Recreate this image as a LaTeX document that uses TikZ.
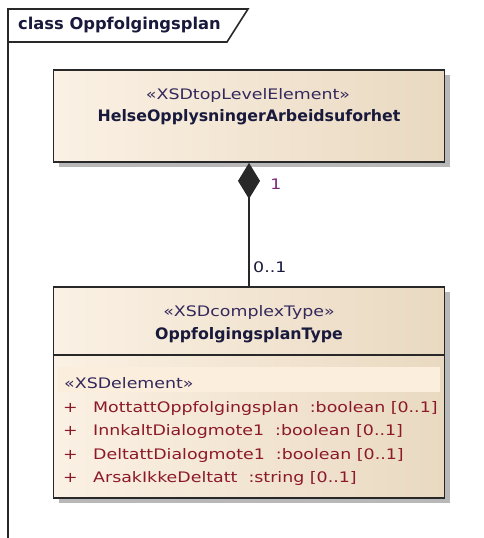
\documentclass[tikz,border=0pt]{standalone}
\usepackage{fontspec}
\setmainfont{DejaVu Sans}
\newfontfamily\eafont{DejaVu Sans}[FakeStretch=1.2]
\usepackage{xcolor}
\usetikzlibrary{positioning,shadows,arrows.meta}

\definecolor{boxleft}{RGB}{251,241,228}
\definecolor{boxright}{RGB}{233,217,193}
\definecolor{rowfill}{RGB}{251,238,220}
\definecolor{stereocol}{RGB}{52,40,92}
\definecolor{namecol}{RGB}{25,25,60}
\definecolor{attrcol}{RGB}{140,25,40}
\definecolor{multcol}{RGB}{120,40,120}
\definecolor{linecol}{RGB}{40,40,40}

\begin{document}
\begin{tikzpicture}[x=1pt, y=-1pt, >=latex,
    umlbox/.style={draw=linecol, line width=1.8pt, left color=boxleft, right color=boxright,
        drop shadow={shadow xshift=5pt, shadow yshift=-5pt, fill=black!28, opacity=1},
        minimum width=391pt, inner sep=0pt},
    stereotype/.style={text=stereocol, inner sep=0pt, font=\eafont\fontsize{14.5}{17}\selectfont},
    classname/.style={text=namecol, inner sep=0pt, font=\bfseries\fontsize{15.8}{18}\selectfont},
    attr/.style={text=attrcol, inner sep=0pt, anchor=west, font=\eafont\fontsize{14.5}{17}\selectfont},
    mult/.style={text=namecol, inner sep=0pt, font=\eafont\fontsize{14.5}{17}\selectfont}]
    \useasboundingbox (0,0) rectangle (484,538);

    % Frame
    \draw[linecol, line width=1.6pt] (8,538) -- (8,9) -- (248,9) -- (227,42) -- (8,42);
    \node[classname, anchor=west, font=\bfseries\fontsize{16.3}{18}\selectfont] (frametitle) at (18,25) {class Oppfolgingsplan};

    % Classes
    \node[umlbox, minimum height=92pt] (helse) at (249,116) {};
    \node[umlbox, minimum height=211pt] (oppf) at (249,392.5) {};
    \draw[linecol, line width=1.5pt] ([yshift=-69pt]oppf.north west) -- ([yshift=-69pt]oppf.north east);
    \fill[rowfill] ([xshift=5pt,yshift=-81pt]oppf.north west) rectangle ([xshift=-5pt,yshift=-106pt]oppf.north east);

    \node[stereotype] (helsest) at (248,95) {«XSDtopLevelElement»};
    \node[classname] (helsename) at (249,117) {HelseOpplysningerArbeidsuforhet};
    \node[stereotype] (oppfst) at (249,312) {«XSDcomplexType»};
    \node[classname] (oppfname) at (249,335) {OppfolgingsplanType};

    % Attributes
    \node[stereotype, anchor=west] (elemst) at (64,383) {«XSDelement»};
    \node[attr] (plus1) at (63,408) {+};
    \node[attr] (attr1) at (93,408) {MottattOppfolgingsplan\ \ :boolean [0..1]};
    \node[attr] (plus2) at (63,431) {+};
    \node[attr] (attr2) at (93,431) {InnkaltDialogmote1\ \ :boolean [0..1]};
    \node[attr] (plus3) at (63,455) {+};
    \node[attr] (attr3) at (93,455) {DeltattDialogmote1\ \ :boolean [0..1]};
    \node[attr] (plus4) at (63,478) {+};
    \node[attr] (attr4) at (93,478) {ArsakIkkeDeltatt\ \ :string [0..1]};

    % Composition
    \draw[linecol, line width=1.5pt, {Diamond[length=36pt, width=22pt]}-] (helse.south) -- (oppf.north);
    \node[mult, text=multcol] (multtop) at (276,184) {1};
    \node[mult, anchor=west] (multbottom) at (253,267) {0..1};
\end{tikzpicture}
\end{document}
